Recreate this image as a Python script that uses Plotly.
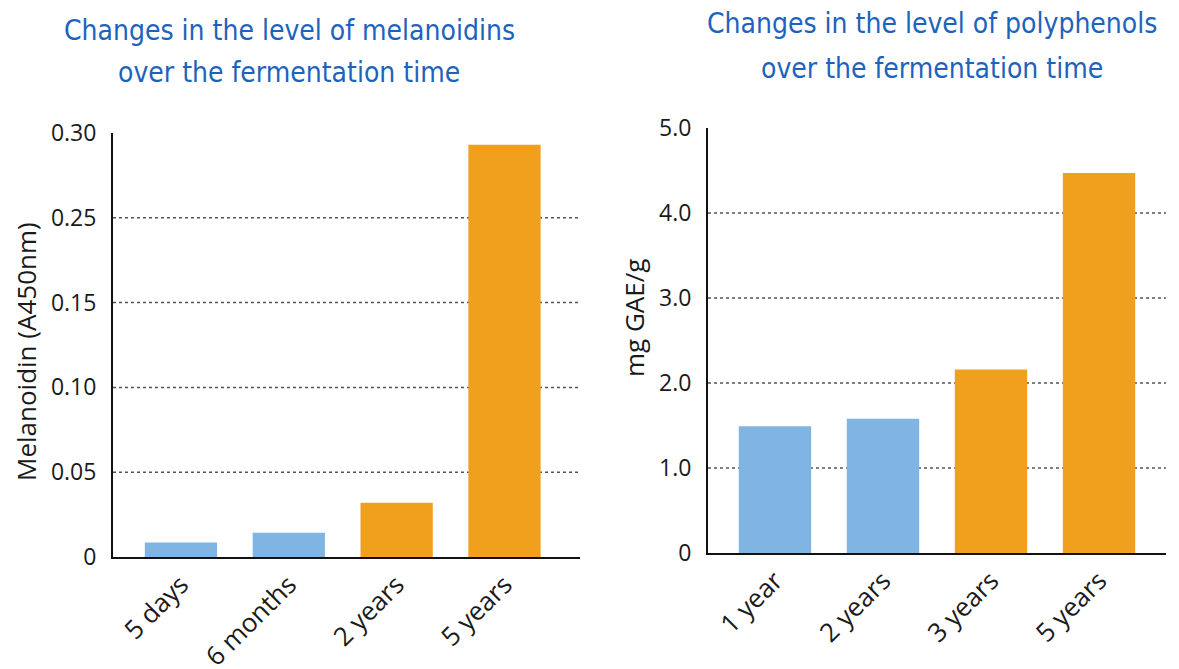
import plotly.graph_objects as go

# ---- data ----
mel_categories = ["5 days", "6 months", "2 years", "5 years"]
mel_values = [0.0085, 0.0143, 0.032, 0.243]
mel_colors = ["#80b4e2", "#80b4e2", "#f0a01c", "#f0a01c"]
mel_tickvals = [0, 0.05, 0.10, 0.15, 0.20, 0.25]
mel_ticktext = ["0", "0.05", "0.10", "0.15", "0.25", "0.30"]

poly_categories = ["1 year", "2 years", "3 years", "5 years"]
poly_values = [1.49, 1.58, 2.16, 4.47]
poly_colors = ["#80b4e2", "#80b4e2", "#f0a01c", "#f0a01c"]
poly_tickvals = [0, 1, 2, 3, 4, 5]
poly_ticktext = ["0", "1.0", "2.0", "3.0", "4.0", "5.0"]

W, H = 1179, 669
def px_x(p): return p / W
def px_y(p): return 1 - p / H

TICK_FONT = dict(family="Open Sans", size=23, color="#1a1a1a")
XTICK_FONT = dict(family="Open Sans", size=26, color="#1a1a1a")
AXTITLE_FONT = dict(family="Open Sans", size=26, color="#1a1a1a")
TITLE_FONT = dict(family="DejaVu Sans Condensed", size=28, color="#1d63bd")

fig = go.Figure()
fig.add_trace(go.Bar(x=mel_categories, y=mel_values, marker=dict(color=mel_colors, line=dict(width=0)),
                     width=0.67, xaxis="x", yaxis="y", showlegend=False))
fig.add_trace(go.Bar(x=poly_categories, y=poly_values, marker=dict(color=poly_colors, line=dict(width=0)),
                     width=0.67, xaxis="x2", yaxis="y2", showlegend=False))

common_x = dict(type="category", showline=True, linecolor="#111", linewidth=2, ticks="",
                tickangle=-45, tickfont=XTICK_FONT, showgrid=False, zeroline=False, automargin=False)
common_y = dict(showline=True, linecolor="#111", linewidth=2, ticks="", tickfont=TICK_FONT,
                showgrid=False, zeroline=False, ticklabelstandoff=10, automargin=False)

fig.update_layout(
    width=W, height=H, margin=dict(l=0, r=0, t=0, b=0),
    paper_bgcolor="white", plot_bgcolor="white",
    xaxis=dict(common_x, domain=[px_x(113), px_x(580)], range=[-0.63, 3.70], anchor="y"),
    yaxis=dict(common_y, domain=[px_y(557), px_y(133)], range=[0, 0.25], anchor="x",
               tickvals=mel_tickvals, ticktext=mel_ticktext),
    xaxis2=dict(common_x, domain=[px_x(708), px_x(1166)], range=[-0.62, 3.62], anchor="y2"),
    yaxis2=dict(common_y, domain=[px_y(553), px_y(128)], range=[0, 5], anchor="x2",
                tickvals=poly_tickvals, ticktext=poly_ticktext),
)

# dotted gridlines (none at bottom/top)
for v in mel_tickvals[1:-1]:
    fig.add_shape(type="line", xref="x domain", yref="y", x0=0, x1=1, y0=v, y1=v,
                  line=dict(color="#555", width=1.5, dash="dot"), layer="below")
for v in poly_tickvals[1:-1]:
    fig.add_shape(type="line", xref="x2 domain", yref="y2", x0=0, x1=1, y0=v, y1=v,
                  line=dict(color="#555", width=1.5, dash="dot"), layer="below")

# axis titles
fig.add_annotation(text="Melanoidin (A450nm)", xref="paper", yref="paper", x=px_x(26), y=px_y(352),
                   textangle=-90, showarrow=False, xanchor="center", yanchor="middle", font=AXTITLE_FONT)
fig.add_annotation(text="mg GAE/g", xref="paper", yref="paper", x=px_x(634), y=px_y(318),
                   textangle=-90, showarrow=False, xanchor="center", yanchor="middle", font=AXTITLE_FONT)

titles = [
    ("Changes in the level of melanoidins", 289, 30),
    ("over the fermentation time", 289, 73),
    ("Changes in the level of polyphenols", 932, 24),
    ("over the fermentation time", 932, 68),
]
for txt, cx, cy in titles:
    fig.add_annotation(text=txt, xref="paper", yref="paper", x=px_x(cx), y=px_y(cy),
                       xanchor="center", yanchor="middle", showarrow=False, font=TITLE_FONT)

fig.write_html("out.html")
